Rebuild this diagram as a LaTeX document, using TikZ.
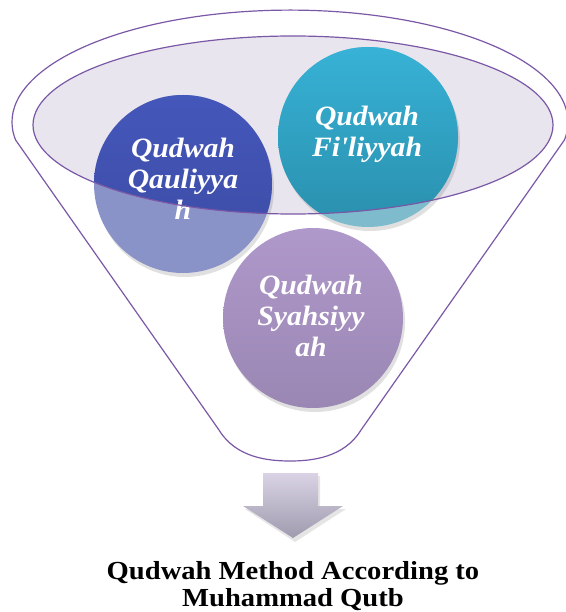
\documentclass[tikz,border=0pt]{standalone}
\usepackage{fontspec}
\setmainfont{Liberation Serif}
\newfontfamily\circfont[FakeStretch=1.06]{Liberation Serif}
\newfontfamily\titlefont[FakeStretch=1.1]{Liberation Serif}
\definecolor{linepurple}{HTML}{7A58A6}
\definecolor{ellfill}{HTML}{E8E5EE}
\definecolor{qtop}{HTML}{4457BA}
\definecolor{qbot}{HTML}{3C4AA3}
\definecolor{qlight}{HTML}{8A93C7}
\definecolor{ftop}{HTML}{37B2D6}
\definecolor{fbot}{HTML}{2A8FAD}
\definecolor{flight}{HTML}{7EBCCD}
\definecolor{stop}{HTML}{AF98CA}
\definecolor{sbot}{HTML}{9A87B3}
\definecolor{atop}{HTML}{D9D3E5}
\definecolor{abot}{HTML}{A09AAE}
\tikzset{
  outline/.style={draw=linepurple, line width=1.2pt},
  ctext/.style={text=white, align=center, inner sep=0pt,
    font=\circfont\fontsize{28}{31}\selectfont\bfseries\itshape},
  title/.style={align=center, inner sep=0pt,
    font=\titlefont\fontsize{26}{27}\selectfont\bfseries},
  shadowc/.style={fill=black, opacity=0.12}
}
\begin{document}
\begin{tikzpicture}[x=1pt,y=-1pt]
\useasboundingbox (0,0) rectangle (565,612);
% inner ellipse fill
\fill[ellfill] (293,125) ellipse [x radius=260, y radius=89];
% shadows
\fill[shadowc] (185,188) circle (89);
\fill[shadowc] (370,141) circle (90);
\fill[shadowc] (315,322) circle (90);
% light parts of circles
\fill[qlight] (183,184) circle (89);
\fill[flight] (368,137) circle (90);
% dark parts inside ellipse
\begin{scope}
  \clip (293,125) ellipse [x radius=260, y radius=89];
  \shade[top color=qtop, bottom color=qbot] (183,184) circle (89);
  \shade[top color=ftop, bottom color=fbot] (368,137) circle (90);
\end{scope}
\shade[top color=stop, bottom color=sbot] (313,318) circle (90);
% texts
\node[ctext] (q) at (183,179) {Qudwah\\Qauliyya\\h};
\node[ctext] (f) at (367,134) {Qudwah\\Fi\textquotesingle liyyah};
\node[ctext] (s) at (311,316) {Qudwah\\Syahsiyy\\ah};
% ellipse outline
\draw[outline] (293,125) ellipse [x radius=260, y radius=89];
% funnel outline
\draw[outline, line join=round] (219,430) -- (15.6,140)
  arc [start angle=170.8, end angle=369.2, x radius=278, y radius=112]
  -- (361,430)
  .. controls (344,458) and (311,461) .. (290,461)
  .. controls (269,461) and (236,458) .. (219,430);
% arrow
\fill[black, opacity=0.10] (265,476) -- (320,476) -- (320,509) -- (346,509)
  -- (295,542) -- (245,509) -- (265,509) -- cycle;
\shade[top color=atop, bottom color=abot] (263,473) -- (318,473) -- (318,506)
  -- (343,506) -- (293,538) -- (243,506) -- (263,506) -- cycle;
% title
\node[title] (t) at (293,586) {Qudwah Method According to\\Muhammad Qutb};
\end{tikzpicture}
\end{document}
